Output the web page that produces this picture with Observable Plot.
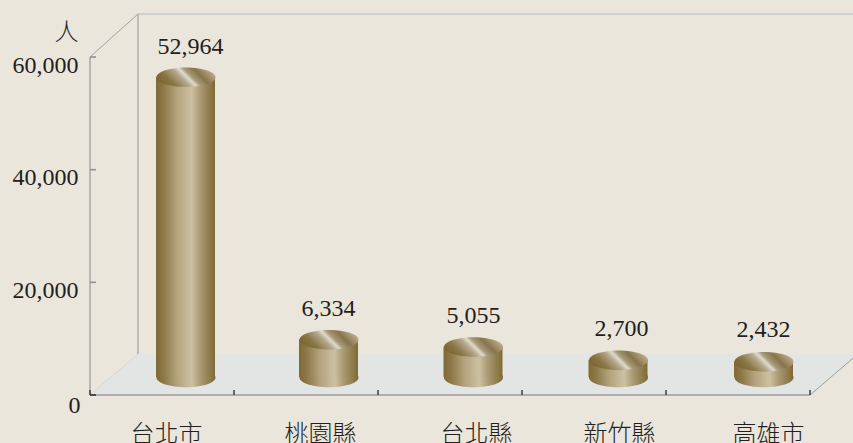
<!DOCTYPE html>
<html><head><meta charset="utf-8">
<script src="https://cdn.jsdelivr.net/npm/d3@7"></script>
<script src="https://cdn.jsdelivr.net/npm/@observablehq/plot@0.6"></script>
<style>html,body{margin:0;padding:0;background:#eae6dc;overflow:hidden}svg{display:block;background:transparent}</style>
</head><body><div id="c"></div><script>
const categories = ["台北市","桃園縣","台北縣","新竹縣","高雄市"];
const people = [52964,6334,5055,2700,2432];
const yTicks = [0,20000,40000,60000];
const rows = categories.map((c,i)=>({c,v:people[i]}));

const serif = "'Liberation Serif','Times New Roman',serif";
const cjk = "'Noto Sans CJK TC','Noto Sans CJK JP',sans-serif";
const depthX = 48, depthY = 41;
const barDx = [23.5,22.5,23,24,25.5], baseDy = -18, topDy = -20, barR = 29.5;
const labelDx = [4,14,26,25,30];
const valueDx = [28,22,23,27,25];

const ellipse = {draw(ctx,size){
  const rx=Math.sqrt(size/Math.PI), ry=rx*0.33, k=0.5523;
  ctx.moveTo(-rx,0);
  ctx.bezierCurveTo(-rx,-ry*k,-rx*k,-ry,0,-ry);
  ctx.bezierCurveTo(rx*k,-ry,rx,-ry*k,rx,0);
  ctx.bezierCurveTo(rx,ry*k,rx*k,ry,0,ry);
  ctx.bezierCurveTo(-rx*k,ry,-rx,ry*k,-rx,0);
  ctx.closePath();
}};

function furniture(index,{x,y},values,dim){
  const g=d3.create("svg:g");
  const defs=g.append("defs");
  const grad=(id,attrs,stops)=>{
    const l=defs.append("linearGradient").attr("id",id);
    Object.entries(attrs).forEach(([k,v])=>l.attr(k,v));
    stops.forEach(([o,c])=>l.append("stop").attr("offset",o).attr("stop-color",c));
  };
  grad("body",{x1:0,x2:1,y1:0,y2:0},[[0,"#7f6a36"],[.12,"#8c7746"],[.35,"#b3a27c"],[.6,"#cdc0a3"],[.75,"#ab9a72"],[1,"#7f6a36"]]);
  grad("top",{gradientUnits:"userSpaceOnUse",x1:-15.5,y1:15.5,x2:15.5,y2:-15.5},[[0,"#7a6532"],[.2,"#8a7646"],[.42,"#b5a98c"],[.52,"#e0dacd"],[.6,"#a89a7a"],[.76,"#86744c"],[1,"#bbab8a"]]);
  const L=x.range()[0], R=x.range()[1], B=y(0), T=y(60000);
  g.append("polygon").attr("points",[[L,B],[R,B],[R+depthX,B-depthY],[L+depthX,B-depthY]].join(" ")).attr("fill","#e3e4e4");
  const line=(x1,y1,x2,y2,c,w)=>g.append("line").attr("x1",x1).attr("y1",y1).attr("x2",x2).attr("y2",y2).attr("stroke",c).attr("stroke-width",w);
  const topY=T-depthY-2;
  line(L+depthX,topY,853,topY,"#cdd0d0",2);
  line(L+depthX,topY,L+depthX,B-depthY,"#a4a6a6",1.3);
  line(L,T,L,B,"#9c9e9e",1.3);
  line(L,T,L+depthX,topY,"#a0a2a2",1);
  line(L,B,L+depthX,B-depthY,"#d6d6d2",1);
  line(R,B,R+depthX,B-depthY,"#9a9c9c",1);
  line(L,B,R,B,"#b0aeb2",2);
  yTicks.forEach(t=>line(L,y(t),L+6,y(t),t===0?"#333":"#8f9090",1.6));
  x.domain().forEach((c,i)=>{const p=x(c)+x.bandwidth();line(p,B-5,p,B,"#333",1.4)});
  line(L,B-5,L,B,"#333",1.4);
  return g.node();
}

const chart = Plot.plot({
  width:853,height:443,
  marginLeft:90,marginRight:43,marginTop:57,marginBottom:48,
  style:{background:"transparent",color:"#231f20"},
  x:{domain:categories,type:"band",padding:0,label:null},
  y:{domain:[0,60000],label:null},
  marks:[
    furniture,
    Plot.axisY({ticks:yTicks.slice(1),tickSize:0,tickPadding:12,dy:7.5,tickFormat:d3.format(","),fontSize:24,fontFamily:serif,label:null}),
    Plot.axisY({ticks:yTicks.slice(0,1),tickSize:0,tickPadding:10,dy:10,tickFormat:d3.format(","),fontSize:24,fontFamily:serif,label:null}),
    ...categories.map((c,i)=>Plot.axisX({ticks:[c],tickSize:0,tickPadding:29,dx:labelDx[i],fontSize:24,fontFamily:cjk,fontWeight:300,label:null})),
    ...rows.flatMap((r,i)=>[
      Plot.dot([r],{x:"c",y:()=>0,r:barR,symbol:ellipse,fill:"url(#body)",stroke:"none",dx:barDx[i],dy:baseDy}),
      Plot.barY([r],{x:"c",y:"v",fill:"url(#body)",insetLeft:72-barR,insetRight:72-barR,insetBottom:topDy-baseDy,dx:barDx[i],dy:topDy}),
      Plot.dot([r],{x:"c",y:"v",r:barR,symbol:ellipse,fill:"url(#top)",stroke:"none",dx:barDx[i],dy:topDy}),
      Plot.text([r],{x:"c",y:"v",text:d=>d3.format(",")(d.v),dx:valueDx[i],dy:i===0?-51:-52,fontSize:24,fontFamily:serif,fill:"#231f20"})
    ]),
    Plot.text(["人"],{frameAnchor:"top-left",dx:-36,dy:-35,fontSize:24,fontFamily:cjk,fontWeight:300,fill:"#231f20"})
  ]
});
document.getElementById("c").append(chart);
</script></body></html>
